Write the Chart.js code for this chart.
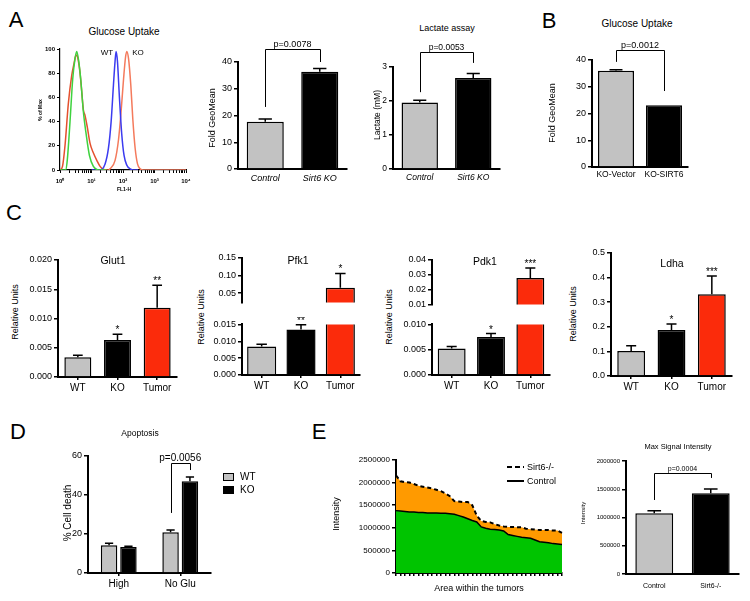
<!DOCTYPE html>
<html><head><meta charset="utf-8">
<script src="https://cdn.jsdelivr.net/npm/chart.js@4.4.1/dist/chart.umd.min.js"></script>
<style>
html,body{margin:0;padding:0;background:#fff}
#fig{position:relative;width:750px;height:601px;overflow:hidden;background:#fff;font-family:"Liberation Sans",Arial,Helvetica,sans-serif;color:#000}
#fig canvas{position:absolute}
.t{position:absolute;white-space:nowrap;line-height:1;transform:translate(-50%,-50%)}
.t.r{transform:translate(-50%,-50%) rotate(-90deg)}
.t.l{transform:translate(0,-50%)}
.sw{position:absolute}
</style></head><body><div id="fig"></div>
<script>
// ---------------- DATA ----------------
// A: flow histogram (FL1-H, % of Max)
const histGreenX = [1.0, 1.5, 1.7, 2.08, 2.53, 3.0, 3.39, 3.93, 4.55, 5.53, 6.73, 8.6, 11.5, 14.7, 20, 30];
const histGreenY = [0, 0, 8, 40, 75, 92, 98, 90, 75, 48, 30, 12, 3, 0.5, 0, 0];
const histCtrlX = [1.0, 1.2, 1.44, 1.84, 2.35, 2.79, 3.23, 3.65, 4.33, 5.0, 5.5, 6.25, 7.4, 9.0, 11.5, 14.7, 18.7, 24, 35];
const histCtrlY = [0, 3, 20, 55, 78, 88, 95, 93, 80, 62, 50, 45, 35, 22, 14, 8, 3, 0.5, 0];
const histWTX = [10, 18.7, 27, 34.5, 42, 49.7, 56, 60.4, 66.6, 77, 91, 108, 132, 169, 216, 300];
const histWTY = [0, 0, 5, 18, 40, 70, 90, 98, 90, 60, 30, 12, 4, 1, 0, 0];
const histKOX = [35, 39, 56, 72, 85, 104, 120, 132, 150, 177, 205, 243, 289, 350, 450, 10000];
const histKOY = [0, 1, 8, 25, 45, 75, 93, 98, 92, 70, 42, 18, 5, 1, 0, 0];
const histYTicks = [0, 20, 40, 60, 80, 100];

// A: Fold GeoMean
const foldLabels = ['Control', 'Sirt6 KO'];
const foldValues = [17.7, 36.4];
const foldErrors = [18.7, 37.6];
const foldTicks = [0, 10, 20, 30, 40];
// A: Lactate assay
const lactLabels = ['Control', 'Sirt6 KO'];
const lactValues = [1.955, 2.68];
const lactErrors = [2.02, 2.81];
const lactTicks = [0, 1, 2, 3];
// B: Glucose uptake
const bLabels = ['KO-Vector', 'KO-SIRT6'];
const bValues = [36.0, 23.1];
const bErrors = [36.4, null];
const bTicks = [0, 10, 20, 30, 40];
// C
const cLabels = ['WT', 'KO', 'Tumor'];
const glutValues = [0.00337, 0.00632, 0.01185];
const glutErrors = [0.0037, 0.0073, 0.0157];
const glutTicks = [0, 0.005, 0.010, 0.015, 0.020];
const pfkValues = [0.00846, 0.01347, 0.0654];
const pfkErrors = [0.00914, 0.0149, 0.1061];
const pfkTicksLow = [0, 0.005, 0.010, 0.015];
const pfkTicksHigh = [0.05, 0.10, 0.15];
const pdkValues = [0.00525, 0.0075, 0.0279];
const pdkErrors = [0.00563, 0.0082, 0.0346];
const pdkTicksLow = [0, 0.005, 0.010];
const pdkTicksHigh = [0.01, 0.02, 0.03, 0.04];
const ldhaValues = [0.1016, 0.187, 0.332];
const ldhaErrors = [0.123, 0.211, 0.407];
const ldhaTicks = [0, 0.1, 0.2, 0.3, 0.4, 0.5];
const glutStars = ['', '*', '**'];
const pfkStars = ['', '**', '*'];
const pdkStars = ['', '*', '***'];
const ldhaStars = ['', '*', '***'];
// D
const dLabels = ['High', 'No Glu'];
const dWT = [14.2, 20.9];
const dWTErr = [15.2, 22.1];
const dKO = [13.3, 47.0];
const dKOErr = [13.7, 49.2];
const dTicks = [0, 20, 40, 60];
// E: area chart
const eSirt = [2160000, 2030000, 2010000, 2000000, 1970000, 1930000, 1910000, 1890000, 1870000, 1840000, 1810000, 1760000, 1700000, 1590000, 1580000, 1570000, 1570000, 1500000, 1270000, 1150000, 1130000, 1120000, 1080000, 1050000, 1030000, 1020000, 1020000, 1010000, 1010000, 980000, 970000, 960000, 950000, 950000, 950000, 940000, 940000, 890000];
const eCtrl = [1380000, 1370000, 1360000, 1350000, 1350000, 1340000, 1340000, 1330000, 1330000, 1330000, 1320000, 1320000, 1310000, 1300000, 1270000, 1240000, 1200000, 1160000, 1130000, 1020000, 990000, 970000, 960000, 950000, 930000, 850000, 830000, 810000, 790000, 780000, 770000, 730000, 690000, 680000, 670000, 650000, 640000, 630000];
const eAreas = eSirt.map((_, i) => String(i + 1));
const eTicks = [0, 500000, 1000000, 1500000, 2000000, 2500000];
// E: bar chart
const eBarLabels = ['Control', 'Sirt6-/-'];
const eBarValues = [1074000, 1428000];
const eBarErrors = [1120000, 1504000];
const eBarTicks = [0, 500000, 1000000, 1500000, 2000000];

// ---------------- SETUP ----------------
const FONT = '"Liberation Sans", Arial, Helvetica, sans-serif';
Chart.defaults.font.family = FONT;
Chart.defaults.color = '#000';
Chart.defaults.animation = false;
Chart.defaults.plugins.legend.display = false;
Chart.defaults.plugins.tooltip.enabled = false;
const GRAY = '#c2c2c2', BLACK = '#000000', RED = '#fb2b0b';
const fig = document.getElementById('fig');

const deco = {
  id: 'deco',
  afterDatasetsDraw(chart, args, o) {
    if (!o) return;
    const ctx = chart.ctx, ys = chart.scales.y;
    if (!ys) return;
    const eps = (ys.max - ys.min) * 1e-6;
    const inR = v => v != null && v >= ys.min - eps && v <= ys.max + eps;
    const val = (d, i) => chart.data.datasets[d].data[i];
    const el = (d, i) => chart.getDatasetMeta(d).data[i];
    const errs = o.errors || [];
    ctx.save();
    ctx.strokeStyle = '#000'; ctx.fillStyle = '#000';
    for (let d = 0; d < errs.length; d++) {
      const arr = errs[d] || [];
      for (let i = 0; i < arr.length; i++) {
        const e = arr[i], v = val(d, i);
        if (!inR(e) || !inR(v)) continue;
        const b = el(d, i), y0 = ys.getPixelForValue(v), y1 = ys.getPixelForValue(e);
        const hw = b.width * (o.cap || 0.36) / 2;
        ctx.lineWidth = o.errWidth || 1.5;
        ctx.beginPath();
        ctx.moveTo(b.x, y0); ctx.lineTo(b.x, y1);
        ctx.moveTo(b.x - hw, y1); ctx.lineTo(b.x + hw, y1);
        ctx.stroke();
      }
    }
    const stars = o.stars || [];
    for (let i = 0; i < stars.length; i++) {
      if (!stars[i]) continue;
      const ref = (errs[0] && errs[0][i] != null) ? errs[0][i] : val(0, i);
      if (!inR(ref)) continue;
      const b = el(0, i);
      ctx.font = (o.starSize || 10) + 'px ' + FONT;
      ctx.textAlign = 'center'; ctx.textBaseline = 'alphabetic';
      ctx.fillText(stars[i], b.x, ys.getPixelForValue(ref) - 1);
    }
    const brs = o.brackets || [];
    for (const k of brs) {
      const b1 = el(k.d1 || 0, k.i1), b2 = el(k.d2 || 0, k.i2);
      const pt = Math.round(ys.getPixelForValue(k.top)) + 0.5;
      ctx.lineWidth = 1;
      ctx.beginPath();
      ctx.moveTo(Math.round(b1.x) + 0.5, ys.getPixelForValue(k.v1));
      ctx.lineTo(Math.round(b1.x) + 0.5, pt);
      ctx.lineTo(Math.round(b2.x) + 0.5, pt);
      ctx.lineTo(Math.round(b2.x) + 0.5, ys.getPixelForValue(k.v2));
      ctx.stroke();
      ctx.font = (k.size || 9) + 'px ' + FONT;
      ctx.textAlign = 'center'; ctx.textBaseline = 'alphabetic';
      ctx.fillText(k.t, (b1.x + b2.x) / 2, pt - 3);
    }
    ctx.restore();
  }
};

function chartAt(area, g, config) {
  const left = area.l - g.yw, top = area.t - g.pt;
  const w = Math.round(area.r + g.pr - left), h = Math.round(area.b + g.xh + g.pb - top);
  const c = document.createElement('canvas');
  c.width = w; c.height = h;
  c.style.left = left + 'px'; c.style.top = top + 'px';
  c.style.width = w + 'px'; c.style.height = h + 'px';
  fig.appendChild(c);
  const o = config.options || (config.options = {});
  o.responsive = false; o.maintainAspectRatio = false; o.devicePixelRatio = 1; o.animation = false;
  o.layout = {padding: {left: 0, top: g.pt, right: g.pr, bottom: g.pb}};
  config.plugins = [deco];
  return new Chart(c, config);
}

function yAx(min, max, ticks, fmt, size, yw, extra) {
  return Object.assign({
    type: 'linear', min: min, max: max,
    afterBuildTicks: s => { s.ticks = ticks.map(v => ({value: v})); },
    afterFit: s => { s.width = yw; },
    ticks: {callback: v => fmt(v), font: {size: size}, color: '#000', padding: 2},
    grid: {drawOnChartArea: false, drawTicks: true, tickLength: 4, color: '#000', lineWidth: 1.5},
    border: {display: true, color: '#000', width: 2}
  }, extra || {});
}
function xCat(size, xh, opt) {
  opt = opt || {};
  const tl = opt.tl || 0;
  return {
    type: 'category', offset: true, display: opt.hidden ? false : true,
    afterFit: s => { s.height = xh; },
    ticks: {font: {size: size, style: opt.italic ? 'italic' : 'normal'}, color: '#000', padding: opt.pad || 3, maxRotation: 0, autoSkip: false},
    grid: {drawOnChartArea: false, offset: false, drawTicks: tl > 0, tickLength: tl, color: '#000', lineWidth: 1.5},
    border: {display: true, color: '#000', width: 2}
  };
}
function bars(data, colors, pct) {
  return {data: data, backgroundColor: colors, borderColor: '#000', borderWidth: 1.5, barPercentage: pct, categoryPercentage: 1};
}
function txt(s, x, y, size, cls, extra) {
  const d = document.createElement('div');
  d.className = 't' + (cls ? ' ' + cls : '');
  d.textContent = s;
  d.style.left = x + 'px'; d.style.top = y + 'px'; d.style.fontSize = size + 'px';
  if (extra) d.style.cssText += extra;
  fig.appendChild(d);
}
function box(x, y, w, h, css) {
  const d = document.createElement('div');
  d.className = 'sw';
  d.style.cssText = `left:${x}px;top:${y}px;width:${w}px;height:${h}px;` + css;
  fig.appendChild(d);
}
const fmt0 = v => String(v);
const fmtN = n => v => Number(v).toFixed(n);

// ---------------- PANEL A: histogram ----------------
const SUP = ['\u2070', '\u00b9', '\u00b2', '\u00b3', '\u2074'];
const zip = (xs, ys) => xs.map((x, i) => ({x: x, y: ys[i]}));
const logTicks = [];
for (let p = 0; p < 4; p++) for (let m = 1; m < 10; m++) logTicks.push(m * Math.pow(10, p));
logTicks.push(10000);
function histSet(xs, ys, color) {
  return {data: zip(xs, ys), showLine: true, borderColor: color, borderWidth: 1.5, pointRadius: 0, cubicInterpolationMode: 'monotone', fill: false};
}
chartAt({l: 60, t: 49, r: 186, b: 170}, {yw: 18, xh: 16, pt: 8, pr: 10, pb: 2}, {
  type: 'scatter',
  data: {datasets: [
    histSet(histGreenX, histGreenY, '#3fd23f'),
    histSet(histWTX, histWTY, '#3b3bf0'),
    histSet(histKOX, histKOY, '#f47a5c'),
    histSet(histCtrlX, histCtrlY, '#e4502e')
  ]},
  options: {
    scales: {
      x: {type: 'logarithmic', min: 1, max: 10000,
        afterBuildTicks: s => { s.ticks = logTicks.map(v => ({value: v})); },
        afterFit: s => { s.height = 16; },
        ticks: {autoSkip: false, maxRotation: 0, padding: 5, font: {size: 6, weight: 'bold'}, color: '#000',
          callback: v => { const l = Math.log10(v); return Math.abs(l - Math.round(l)) < 1e-9 ? '10' + SUP[Math.round(l)] : ''; }},
        grid: {drawOnChartArea: false, drawTicks: true, tickLength: 3, color: '#000', lineWidth: 1},
        border: {display: true, color: '#000', width: 1.2}},
      y: {type: 'linear', min: 0, max: 100,
        afterBuildTicks: s => { s.ticks = histYTicks.map(v => ({value: v})); },
        afterFit: s => { s.width = 18; },
        ticks: {font: {size: 6, weight: 'bold'}, color: '#000', padding: 2},
        grid: {drawOnChartArea: false, drawTicks: true, tickLength: 3, color: '#000', lineWidth: 1},
        border: {display: true, color: '#000', width: 1.2}}
    }
  }
});

// ---------------- PANEL A: Fold GeoMean ----------------
chartAt({l: 238, t: 62, r: 347, b: 169}, {yw: 22, xh: 18, pt: 30, pr: 8, pb: 2}, {
  type: 'bar',
  data: {labels: foldLabels, datasets: [bars(foldValues, [GRAY, BLACK], 0.68)]},
  options: {scales: {x: xCat(9, 18, {italic: true, pad: 4}), y: yAx(0, 40, foldTicks, fmt0, 9, 22)},
    plugins: {deco: {errors: [foldErrors], brackets: [{i1: 0, i2: 1, top: 44.9, v1: 23.2, v2: 40, t: 'p=0.0078', size: 9}]}}}
});

// ---------------- PANEL A: Lactate ----------------
chartAt({l: 393, t: 67, r: 500, b: 169}, {yw: 16, xh: 18, pt: 30, pr: 8, pb: 2}, {
  type: 'bar',
  data: {labels: lactLabels, datasets: [bars(lactValues, [GRAY, BLACK], 0.68)]},
  options: {scales: {x: xCat(8.5, 18, {italic: true, pad: 4}), y: yAx(0, 3, lactTicks, fmt0, 8.5, 16)},
    plugins: {deco: {errors: [lactErrors], brackets: [{i1: 0, i2: 1, top: 3.44, v1: 2.26, v2: 3.12, t: 'p=0.0053', size: 8.5}]}}}
});

// ---------------- PANEL B ----------------
chartAt({l: 592, t: 60, r: 688, b: 167}, {yw: 22, xh: 18, pt: 30, pr: 12, pb: 2}, {
  type: 'bar',
  data: {labels: bLabels, datasets: [bars(bValues, [GRAY, BLACK], 0.75)]},
  options: {scales: {x: xCat(8.5, 18, {pad: 3}), y: yAx(0, 40, bTicks, fmt0, 9, 22)},
    plugins: {deco: {errors: [bErrors], brackets: [{i1: 0, i2: 1, top: 43.7, v1: 39.3, v2: 28.4, t: 'p=0.0012', size: 9}]}}}
});

// ---------------- PANEL C ----------------
const CC = [GRAY, BLACK, RED];
chartAt({l: 58, t: 260, r: 177, b: 377}, {yw: 30, xh: 18, pt: 10, pr: 6, pb: 2}, {
  type: 'bar',
  data: {labels: cLabels, datasets: [bars(glutValues, CC, 0.68)]},
  options: {scales: {x: xCat(10, 18, {tl: 3, pad: 2}), y: yAx(0, 0.02, glutTicks, fmtN(3), 9, 30)},
    plugins: {deco: {errors: [glutErrors], stars: glutStars}}}
});
// Pfk1 upper + lower
chartAt({l: 242, t: 258, r: 360, b: 310}, {yw: 30, xh: 0, pt: 8, pr: 6, pb: 0}, {
  type: 'bar',
  data: {labels: cLabels, datasets: [bars(pfkValues, CC, 0.74)]},
  options: {scales: {x: xCat(10, 0, {hidden: true}), y: yAx(0.023, 0.15, pfkTicksHigh, fmtN(2), 9, 30)},
    plugins: {deco: {errors: [pfkErrors], stars: pfkStars}}}
});
chartAt({l: 242, t: 323, r: 360, b: 375}, {yw: 30, xh: 18, pt: 6, pr: 6, pb: 2}, {
  type: 'bar',
  data: {labels: cLabels, datasets: [bars(pfkValues, CC, 0.74)]},
  options: {scales: {x: xCat(10, 18, {tl: 3, pad: 2}), y: yAx(0, 0.015, pfkTicksLow, fmtN(3), 9, 30)},
    plugins: {deco: {errors: [pfkErrors], stars: pfkStars}}}
});
// Pdk1 upper + lower
chartAt({l: 432, t: 260, r: 550, b: 312}, {yw: 30, xh: 0, pt: 8, pr: 6, pb: 0}, {
  type: 'bar',
  data: {labels: cLabels, datasets: [bars(pdkValues, CC, 0.71)]},
  options: {scales: {x: xCat(10, 0, {hidden: true}), y: yAx(0.01, 0.04, pdkTicksHigh, fmtN(2), 9, 30)},
    plugins: {deco: {errors: [pdkErrors], stars: pdkStars}}}
});
chartAt({l: 432, t: 323, r: 550, b: 375}, {yw: 30, xh: 18, pt: 6, pr: 6, pb: 2}, {
  type: 'bar',
  data: {labels: cLabels, datasets: [bars(pdkValues, CC, 0.71)]},
  options: {scales: {x: xCat(10, 18, {tl: 3, pad: 2}), y: yAx(0, 0.010, pdkTicksLow, fmtN(3), 9, 30)},
    plugins: {deco: {errors: [pdkErrors], stars: pdkStars}}}
});
// Ldha
chartAt({l: 611, t: 253, r: 732, b: 376}, {yw: 24, xh: 18, pt: 10, pr: 6, pb: 2}, {
  type: 'bar',
  data: {labels: cLabels, datasets: [bars(ldhaValues, CC, 0.69)]},
  options: {scales: {x: xCat(10, 18, {tl: 3, pad: 2}), y: yAx(0, 0.5, ldhaTicks, fmtN(1), 9, 24)},
    plugins: {deco: {errors: [ldhaErrors], stars: ldhaStars}}}
});

// ---------------- PANEL D ----------------
chartAt({l: 88, t: 456, r: 211, b: 573}, {yw: 20, xh: 18, pt: 20, pr: 6, pb: 2}, {
  type: 'bar',
  data: {labels: dLabels, datasets: [
    {data: dWT, backgroundColor: GRAY, borderColor: '#000', borderWidth: 1.5, barPercentage: 0.85, categoryPercentage: 0.63},
    {data: dKO, backgroundColor: BLACK, borderColor: '#000', borderWidth: 1.5, barPercentage: 0.85, categoryPercentage: 0.63}
  ]},
  options: {scales: {x: xCat(10, 18, {tl: 3, pad: 2}), y: yAx(0, 60, dTicks, fmt0, 9, 20)},
    plugins: {deco: {errors: [dWTErr, dKOErr], cap: 0.5,
      brackets: [{d1: 0, i1: 1, d2: 1, i2: 1, top: 56.4, v1: 30.8, v2: 52.8, t: 'p=0.0056', size: 10}]}}}
});

// ---------------- PANEL E: area ----------------
chartAt({l: 396, t: 460, r: 562, b: 573}, {yw: 40, xh: 8, pt: 8, pr: 6, pb: 2}, {
  type: 'line',
  data: {labels: eAreas, datasets: [
    {data: eCtrl, borderColor: '#000', borderWidth: 1.5, backgroundColor: '#00c400', fill: 'origin', pointRadius: 0, tension: 0},
    {data: eSirt, borderColor: '#000', borderWidth: 2, borderDash: [4, 3], backgroundColor: '#ff9a00', fill: 'origin', pointRadius: 0, tension: 0}
  ]},
  options: {scales: {
    x: {type: 'category', offset: false, afterFit: s => { s.height = 8; },
      ticks: {display: false, autoSkip: false},
      grid: {drawOnChartArea: false, offset: false, drawTicks: true, tickLength: 3, color: '#000', lineWidth: 1.5},
      border: {display: true, color: '#000', width: 2}},
    y: yAx(0, 2500000, eTicks, fmt0, 8, 40)
  }}
});

// ---------------- PANEL E: bar ----------------
chartAt({l: 626, t: 461, r: 739, b: 574}, {yw: 30, xh: 18, pt: 20, pr: 6, pb: 2}, {
  type: 'bar',
  data: {labels: eBarLabels, datasets: [bars(eBarValues, [GRAY, BLACK], 0.67)]},
  options: {scales: {x: xCat(7, 18, {pad: 8}), y: yAx(0, 2000000, eBarTicks, fmt0, 6, 30, {})},
    plugins: {deco: {errors: [eBarErrors], brackets: [{i1: 0, i2: 1, top: 1788000, v1: 1310000, v2: 1700000, t: 'p=0.0004', size: 7}]}}}
});

// ---------------- TEXT ----------------
txt('A', 16, 20, 22); txt('B', 549, 21, 22); txt('C', 14, 213, 22); txt('D', 18, 432, 22); txt('E', 319, 432, 22);
txt('Glucose Uptake', 124, 32, 10);
txt('% of Max', 40, 110, 5, 'r', 'font-weight:bold');
txt('FL1-H', 124, 189, 5, '', 'font-weight:bold');
txt('WT', 107, 53, 8); txt('KO', 138, 53, 8);
txt('Fold GeoMean', 212, 118, 9, 'r');
txt('Lactate assay', 447, 28, 9);
txt('Lactate (mM)', 377, 115, 8.5, 'r');
txt('Glucose Uptake', 637, 24, 10);
txt('Fold GeoMean', 552, 113, 9, 'r');
txt('Glut1', 113, 260, 10.5); txt('Pfk1', 298, 260, 10.5); txt('Pdk1', 485, 261, 10.5); txt('Ldha', 672, 263, 10.5);
txt('Relative Units', 15, 312, 9, 'r'); txt('Relative Units', 201, 317, 9, 'r');
txt('Relative Units', 389, 317, 9, 'r'); txt('Relative Units', 573, 314, 9, 'r');
txt('Apoptosis', 140, 433, 8.5);
txt('% Cell death', 68, 513, 10, 'r');
box(223, 473, 11, 8, 'background:' + GRAY + ';border:1.5px solid #000;box-sizing:border-box');
box(223, 486, 11, 8, 'background:#000;border:1.5px solid #000;box-sizing:border-box');
txt('WT', 240, 477, 10, 'l'); txt('KO', 240, 490, 10, 'l');
txt('Intensity', 336, 514, 9, 'r');
txt('Area within the tumors', 479, 588, 9);
box(507, 466, 17, 2, 'background:repeating-linear-gradient(90deg,#000 0 5px,transparent 5px 8px)');
box(507, 480, 17, 2, 'background:#000');
txt('Sirt6-/-', 527, 467, 9, 'l'); txt('Control', 527, 481, 9, 'l');
txt('Max Signal Intensity', 678, 447, 7.5);
txt('Intensity', 583, 513, 6, 'r');
</script></body></html>
